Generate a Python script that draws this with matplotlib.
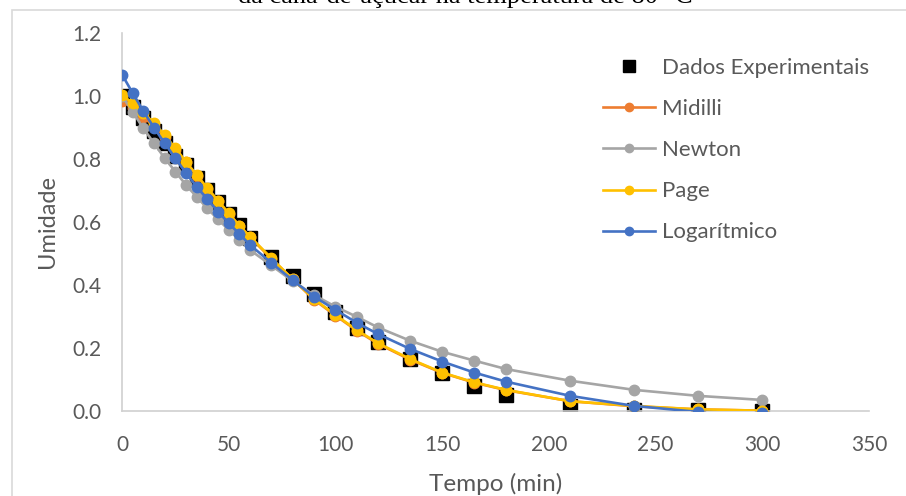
import matplotlib
matplotlib.use("Agg")
import matplotlib.pyplot as plt
from matplotlib.patches import Rectangle

# tempo (min) e umidade
tempo = [0, 5, 10, 15, 20, 25, 30, 35, 40, 45, 50, 55, 60, 70, 80, 90, 100,
         110, 120, 135, 150, 165, 180, 210, 240, 270, 300]

experimental = [1.0, 0.965, 0.93, 0.89, 0.85, 0.81, 0.78, 0.74, 0.70, 0.665,
                0.625, 0.59, 0.55, 0.49, 0.43, 0.37, 0.315, 0.265, 0.22,
                0.165, 0.12, 0.08, 0.05, 0.015, 0.003, 0.002, 0.001]

midilli = [0.984, 0.962, 0.932, 0.905, 0.870, 0.830, 0.789, 0.747, 0.706,
           0.666, 0.626, 0.588, 0.552, 0.483, 0.418, 0.353, 0.303, 0.255,
           0.213, 0.163, 0.121, 0.090, 0.066, 0.031, 0.015, 0.005, 0.001]

newton = [1.0, 0.950, 0.897, 0.850, 0.802, 0.760, 0.717, 0.680, 0.643,
          0.608, 0.575, 0.543, 0.511, 0.462, 0.412, 0.368, 0.331, 0.299,
          0.265, 0.223, 0.188, 0.160, 0.133, 0.096, 0.067, 0.048, 0.035]

page = [1.003, 0.977, 0.945, 0.915, 0.876, 0.834, 0.791, 0.749, 0.707,
        0.668, 0.627, 0.588, 0.553, 0.485, 0.418, 0.355, 0.305, 0.257,
        0.215, 0.165, 0.122, 0.091, 0.067, 0.031, 0.016, 0.005, 0.001]

logaritmico = [1.068, 1.009, 0.952, 0.899, 0.850, 0.802, 0.755, 0.712, 0.672,
               0.633, 0.596, 0.562, 0.527, 0.470, 0.415, 0.363, 0.321, 0.280,
               0.244, 0.197, 0.157, 0.122, 0.093, 0.048, 0.016, -0.003, -0.007]

plt.rcParams['font.family'] = ['Lato', 'DejaVu Sans']

fig = plt.figure(figsize=(9.06, 4.96), dpi=100)
ax = fig.add_axes([0.1347, 0.1714, 0.8245, 0.7621])

# moldura da area do grafico (so aparece em cima e a esquerda)
fig.patches.append(Rectangle((12/906, -0.1), 1.2, 1 - 9.5/496 + 0.1,
                             transform=fig.transFigure, fill=False,
                             edgecolor='#d9d9d9', linewidth=1.2))

fig.text(465/906, 1 - 3/496, 'da cana-de-açúcar na temperatura de 80 °C',
         ha='center', va='baseline', fontsize=19,
         family=['Liberation Serif', 'DejaVu Serif'], color='black')

ax.plot(tempo, experimental, linestyle='none', marker='s', markersize=10,
        color='black', label='Dados Experimentais', zorder=2)
ax.plot(tempo, midilli, color='#ED7D31', lw=1.9, marker='o', markersize=7.5,
        label='Midilli', zorder=3)
ax.plot(tempo, newton, color='#A5A5A5', lw=1.9, marker='o', markersize=7.5,
        label='Newton', zorder=3)
ax.plot(tempo, page, color='#FFC000', lw=1.9, marker='o', markersize=7.5,
        label='Page', zorder=4)
ax.plot(tempo, logaritmico, color='#4472C4', lw=1.9, marker='o', markersize=7.5,
        label='Logarítmico', zorder=5)

ax.set_xlim(0, 350)
ax.set_ylim(0, 1.2)
ax.set_xticks(range(0, 351, 50))
ax.set_yticks([0.0, 0.2, 0.4, 0.6, 0.8, 1.0, 1.2])
ax.set_yticklabels(['0.0', '0.2', '0.4', '0.6', '0.8', '1.0', '1.2'])
ax.tick_params(length=0, labelsize=15, colors='#595959')
ax.tick_params(axis='y', pad=15)
ax.tick_params(axis='x', pad=17)

for s in ['top', 'right']:
    ax.spines[s].set_visible(False)
for s in ['left', 'bottom']:
    ax.spines[s].set_color('#d0d0d0')
    ax.spines[s].set_linewidth(1.2)

ax.set_xlabel('Tempo (min)', fontsize=17.5, color='#595959', labelpad=13)
ax.set_ylabel('Umidade', fontsize=17, color='#595959', labelpad=10)

leg = fig.legend(loc='upper left', bbox_to_anchor=(603/906, 1 - 58/496),
                 frameon=False, fontsize=16, handlelength=2.35,
                 handletextpad=0.3, labelspacing=0.95, borderpad=0,
                 borderaxespad=0, markerscale=0.8)
for t in leg.get_texts():
    t.set_color('#595959')

fig.savefig('out.png', dpi=100)
